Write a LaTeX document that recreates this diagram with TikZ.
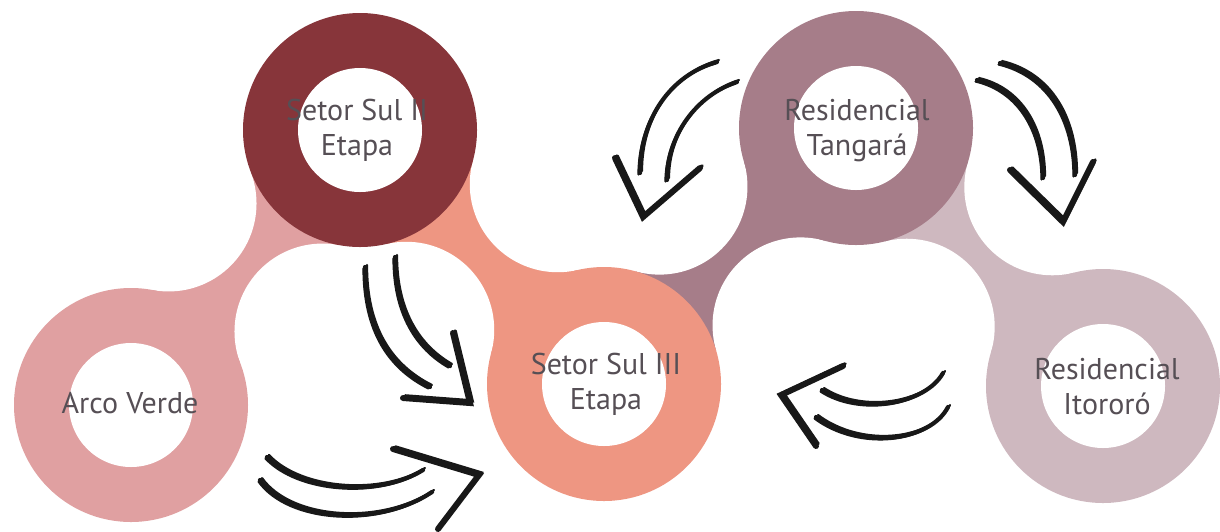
\documentclass[tikz,border=0pt]{standalone}
\usepackage{fontspec}
\setmainfont{PT Sans}
\usetikzlibrary{intersections}
\definecolor{cArco}{RGB}{224,160,161}
\definecolor{cSulII}{RGB}{135,53,58}
\definecolor{cSulIII}{RGB}{238,150,130}
\definecolor{cTang}{RGB}{166,125,137}
\definecolor{cItor}{RGB}{206,184,191}
\definecolor{cText}{RGB}{86,79,85}
\definecolor{cInk}{RGB}{24,24,24}
\newcommand\mybridge[3]{%
  \path[name path=bp#1] (#1) circle[radius=205];
  \path[name path=bq#2] (#2) circle[radius=205];
  \path[name intersections={of=bp#1 and bq#2, by={#1#2a,#1#2b}}];
  \fill[#3] (#1) -- (#1#2a) -- (#2) -- (#1#2b) -- cycle;
}
\newcommand\sketchline[4]{%
  \draw[ink] #1 .. controls #2 and #3 .. #4;
  \draw[inkthin, shift={(2,-2)}] #1 .. controls #2 and #3 .. #4;
  \draw[inkthin, shift={(-1.5,1.5)}] #1 .. controls #2 and #3 .. #4;
}
\newcommand\sketchhead[3]{%
  \draw[arrowhd] #1 -- #2 -- #3;
  \draw[arrowhdthin, shift={(2.2,-2.2)}] #1 -- #2 -- #3;
}
\begin{document}
\begin{tikzpicture}[x=0.5pt,y=-0.5pt,
  lbl/.style={text=cText, align=center, font=\fontsize{15}{17.5}\selectfont, inner sep=0pt},
  ink/.style={draw=cInk, line width=2.1pt, line cap=round, line join=round},
  inkthin/.style={draw=cInk, line width=1.1pt, line cap=round, line join=round},
  arrowhd/.style={draw=cInk, line width=3pt, line cap=round, line join=miter},
  arrowhdthin/.style={draw=cInk, line width=1.6pt, line cap=round, line join=miter}]
\fill[white] (0,0) rectangle (1220,531);
\useasboundingbox (0,0) rectangle (1220,531);

% centres of the rings
\coordinate (A) at (131,405);
\coordinate (B) at (360,130);
\coordinate (C) at (604,384);
\coordinate (D) at (856,128);
\coordinate (E) at (1103,386);

% bridges
\mybridge{A}{B}{cArco}
\mybridge{B}{C}{cSulIII}
\mybridge{C}{D}{cTang}
\mybridge{D}{E}{cItor}
\foreach \q in {ABa,ABb,BCa,BCb,CDa,CDb,DEa,DEb}
  \fill[white] (\q) circle[radius=88];

% rings
\foreach \p/\c in {A/cArco,B/cSulII,C/cSulIII,D/cTang,E/cItor}{
  \fill[\c] (\p) circle[radius=117];
  \fill[white] (\p) circle[radius=62];
}

% labels
\node[lbl] (arco) at (130,403) {Arco Verde};
\node[lbl] (sul2) at (357,130) {Setor Sul II\\Etapa};
\node[lbl] (sul3) at (606,384) {Setor Sul III\\Etapa};
\node[lbl] (tang) at (857,131) {Residencial\\Tangará};
\node[lbl] (itor) at (1107,387) {Residencial\\Itororó};

% arrow 1: Setor Sul II -> Setor Sul III
\sketchline{(365,267)}{(365,330)}{(390,367)}{(430,387)}
\sketchline{(395,257)}{(395,312)}{(417,347)}{(450,366)}
\sketchhead{(453,333)}{(470,403)}{(403,398)}

% arrow 2: Arco Verde -> Setor Sul III
\sketchline{(267,457)}{(300,492)}{(380,497)}{(423,470)}
\sketchline{(260,480)}{(290,522)}{(380,527)}{(432,492)}
\sketchhead{(393,449)}{(479,475)}{(438,529)}

% arrow 3: Residencial Tangara -> left
\sketchline{(717,62)}{(670,75)}{(640,120)}{(640,173)}
\sketchline{(737,82)}{(697,95)}{(667,135)}{(667,180)}
\sketchhead{(615,158)}{(643,217)}{(700,168)}

% arrow 4: Residencial Tangara -> Residencial Itororo
\sketchline{(1000,63)}{(1050,75)}{(1075,120)}{(1075,175)}
\sketchline{(977,80)}{(1020,90)}{(1043,130)}{(1043,178)}
\sketchhead{(1010,170)}{(1063,222)}{(1093,162)}

% arrow 5: Residencial Itororo -> Setor Sul III
\sketchline{(943,373)}{(925,405)}{(860,415)}{(822,390)}
\sketchline{(948,407)}{(930,442)}{(860,450)}{(816,417)}
\sketchhead{(843,366)}{(781,395)}{(816,446)}
\end{tikzpicture}
\end{document}
